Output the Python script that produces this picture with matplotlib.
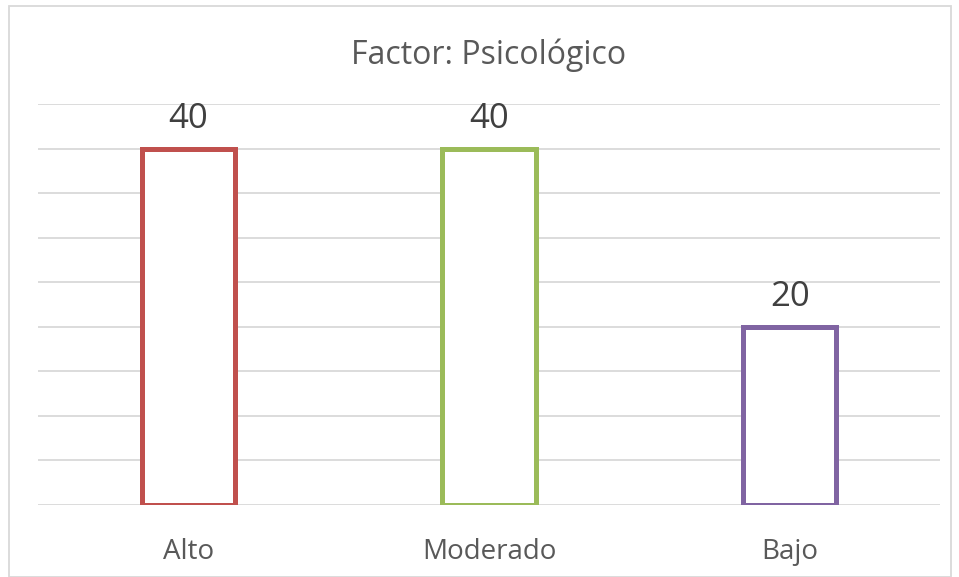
import matplotlib
matplotlib.use("Agg")
import matplotlib.pyplot as plt
from matplotlib.patches import Rectangle

categories = ["Alto", "Moderado", "Bajo"]
values = [40, 40, 20]
colors = ["#C0504D", "#9BBB59", "#8064A2"]
title = "Factor: Psicológico"

plt.rcParams['font.family'] = ['Open Sans', 'DejaVu Sans']

fig = plt.figure(figsize=(9.59, 5.77), dpi=100)
ax = fig.add_axes([38/959, 1-505/577, (940-38)/959, (505-104)/577])

x = list(range(len(categories)))
ax.bar(x, values, width=0.31, facecolor="white", edgecolor=colors, linewidth=3.6, zorder=3)
ax.set_xlim(-0.5, len(categories)-0.5)
ax.set_ylim(0, 45)
ax.set_yticks(range(0, 46, 5))
ax.yaxis.grid(True, color="#d9d9d9", linewidth=1.3)
ax.set_axisbelow(True)
for s in ax.spines.values():
    s.set_visible(False)
ax.tick_params(axis='y', left=False, labelleft=False)
ax.tick_params(axis='x', bottom=False, pad=20)
ax.set_xticks(x)
ax.set_xticklabels(categories, fontsize=20, color="#595959")

for xi, v in zip(x, values):
    ax.annotate(str(v), (xi, v), xytext=(0, 21.5), textcoords="offset points",
                ha="center", va="center", fontsize=25, color="#404040")

fig.text(489/959, 1-55/577, title, ha="center", va="center", fontsize=23, color="#595959")

fig.patches.append(Rectangle((9/959, 0), (951-9)/959, 1-6/577, transform=fig.transFigure,
                             fill=False, edgecolor="#d9d9d9", linewidth=1.3))

fig.savefig("out.png", dpi=100)
